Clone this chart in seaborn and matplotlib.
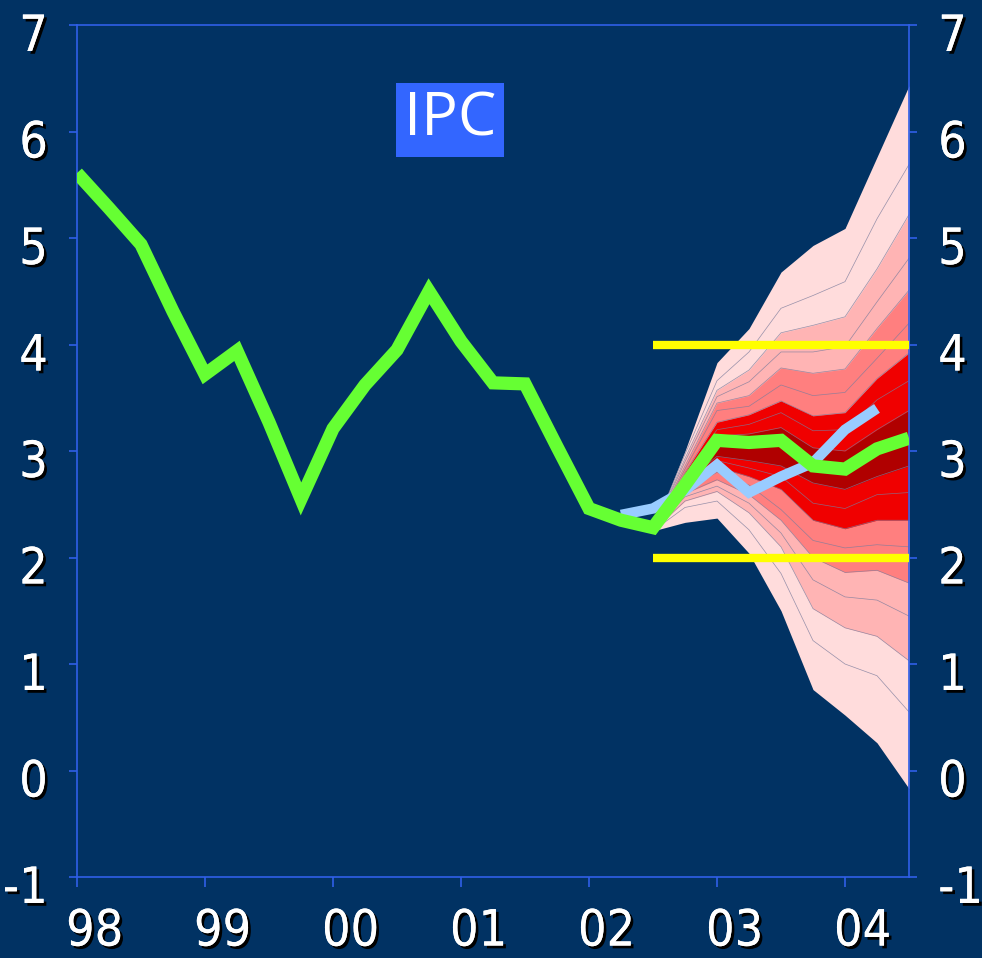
import numpy as np
import pandas as pd
import matplotlib
matplotlib.use("Agg")
import matplotlib.pyplot as plt
import matplotlib.patheffects as pe
from matplotlib.transforms import ScaledTranslation
from matplotlib import font_manager
import seaborn as sns

# quarters 98Q1 .. 04Q3
quarters = [f"{y}Q{q}" for y in ["98", "99", "00", "01", "02", "03", "04"] for q in (1, 2, 3, 4)][:27]
year_labels = ["98", "99", "00", "01", "02", "03", "04"]

# IPC observed / latest projection (green)
ipc = [5.61, 5.28, 4.94, 4.31, 3.72, 3.94, 3.27, 2.55, 3.21, 3.62, 3.95, 4.50,
       4.03, 3.64, 3.63, 3.04, 2.46, 2.35, 2.28, 2.68, 3.10, 3.08, 3.10, 2.86,
       2.83, 3.02, 3.12]
# previous projection (light blue), 02Q2 .. 04Q2
prev_x = list(range(17, 26))
prev = [2.40, 2.46, 2.63, 2.87, 2.61, 2.76, 2.89, 3.20, 3.40]

# fan chart boundaries, 02Q3 .. 04Q3 (top to bottom)
fan_x = list(range(18, 27))
b00 = [2.25, 3.00, 3.83, 4.15, 4.68, 4.93, 5.09, 5.76, 6.43]
b01 = [2.25, 2.97, 3.66, 3.93, 4.34, 4.46, 4.59, 5.18, 5.69]
b02 = [2.25, 2.93, 3.57, 3.76, 4.11, 4.18, 4.26, 4.71, 5.22]
b03 = [2.25, 2.90, 3.51, 3.65, 3.93, 3.93, 3.98, 4.40, 4.81]
b04 = [2.25, 2.86, 3.45, 3.52, 3.78, 3.73, 3.77, 4.15, 4.51]
b05 = [2.25, 2.83, 3.38, 3.42, 3.62, 3.52, 3.55, 3.87, 4.20]
b06 = [2.25, 2.80, 3.27, 3.34, 3.47, 3.33, 3.36, 3.68, 3.92]
b07 = [2.25, 2.78, 3.20, 3.25, 3.36, 3.19, 3.20, 3.48, 3.66]
b08 = [2.25, 2.76, 3.14, 3.16, 3.22, 3.03, 3.00, 3.20, 3.38]
b09 = [2.25, 2.70, 2.95, 2.91, 2.86, 2.70, 2.64, 2.76, 2.86]
b10 = [2.25, 2.68, 2.91, 2.84, 2.76, 2.51, 2.46, 2.59, 2.61]
b11 = [2.25, 2.66, 2.85, 2.76, 2.64, 2.35, 2.27, 2.35, 2.35]
b12 = [2.25, 2.63, 2.80, 2.68, 2.45, 2.16, 2.09, 2.12, 2.10]
b13 = [2.25, 2.60, 2.73, 2.59, 2.35, 2.00, 1.86, 1.88, 1.76]
b14 = [2.25, 2.57, 2.67, 2.51, 2.23, 1.79, 1.63, 1.60, 1.45]
b15 = [2.25, 2.53, 2.62, 2.42, 2.10, 1.52, 1.34, 1.26, 1.03]
b16 = [2.25, 2.47, 2.53, 2.26, 1.85, 1.22, 1.00, 0.89, 0.55]
b17 = [2.25, 2.33, 2.37, 2.04, 1.50, 0.76, 0.52, 0.26, -0.17]
bounds = [b00, b01, b02, b03, b04, b05, b06, b07, b08,
          b09, b10, b11, b12, b13, b14, b15, b16, b17]
fan_colors = ["#ffdcdc", "#ffb4b4", "#ff7f7f", "#f00000", "#b00000"]

# target range
target_x = [18, 26]
target_hi = [4, 4]
target_lo = [2, 2]

bg = "#013263"
axis_blue = "#2f5fe8"

sns.set_style("dark", {"axes.facecolor": bg, "figure.facecolor": bg})
plt.rcParams["font.family"] = ["Open Sans", "DejaVu Sans"]

# look for a condensed face for the numbers, else plain Open Sans
num_prop = font_manager.FontProperties(family="Open Sans")
for f in font_manager.fontManager.ttflist:
    if ("Narrow" in f.name or "Condensed" in f.name or f.stretch in ("condensed", "semi-condensed")) \
            and f.weight in (400, "normal", "regular") and f.style == "normal":
        num_prop = font_manager.FontProperties(fname=f.fname)
        break

fig = plt.figure(figsize=(9.82, 9.58), dpi=100)
ax = fig.add_axes([77 / 982, 1 - 877 / 958, (909 - 77) / 982, (877 - 25) / 958])

# fan
for i, c in enumerate(fan_colors):
    ax.fill_between(fan_x, bounds[i * 2], bounds[17 - i * 2], color=c, lw=0, zorder=1)
for b in bounds[1:-1]:
    ax.plot(fan_x, b, color="#7c7c9c", lw=0.5, alpha=0.8, zorder=2)

# target band limits
for t in (target_hi, target_lo):
    ax.plot(target_x, t, color="#ffff00", lw=6, solid_capstyle="butt", zorder=3)

df_prev = pd.DataFrame({"x": prev_x, "v": prev})
df_ipc = pd.DataFrame({"x": range(len(ipc)), "v": ipc})
sns.lineplot(data=df_prev, x="x", y="v", ax=ax, color="#99ccff", lw=7.5,
             solid_capstyle="butt", solid_joinstyle="miter", zorder=4)
sns.lineplot(data=df_ipc, x="x", y="v", ax=ax, color="#66ff33", lw=9.5,
             solid_capstyle="butt", solid_joinstyle="miter", zorder=5)

ax.set_xlim(0, 26)
ax.set_ylim(-1, 7)
ax.set_xlabel("")
ax.set_ylabel("")

for s in ax.spines.values():
    s.set_visible(True)
    s.set_color(axis_blue)
    s.set_linewidth(1.2)

shadow = [pe.withSimplePatchShadow(offset=(2, -2), shadow_rgbFace="black", alpha=1.0), pe.Normal()]

ax.set_yticks(range(-1, 8))
ax.set_yticklabels([str(v) for v in range(-1, 8)])
ax.tick_params(axis="y", which="major", left=True, right=True, labelleft=True, labelright=True,
               direction="out", length=6, width=1.2, color=axis_blue,
               labelcolor="white", pad=15)

ax.set_xticks(range(0, 27, 4))
ax.set_xticklabels([])
ax.set_xticks([v + 0.55 for v in range(0, 25, 4)], minor=True)
ax.set_xticklabels(year_labels, minor=True)
ax.tick_params(axis="x", which="major", bottom=True, direction="out", length=7, width=1.2,
               color=axis_blue)
ax.tick_params(axis="x", which="minor", bottom=True, length=0, labelcolor="white", pad=22)

down = ScaledTranslation(0, -7 / 100, fig.dpi_scale_trans)
for t in ax.yaxis.get_major_ticks():
    for lab in (t.label1, t.label2):
        lab.set_fontproperties(num_prop)
        lab.set_fontsize(36)
        lab.set_path_effects(shadow)
        lab.set_transform(lab.get_transform() + down)
for lab in ax.get_xticklabels(which="minor"):
    lab.set_fontproperties(num_prop)
    lab.set_fontsize(36)
    lab.set_path_effects(shadow)

fig.text(450 / 982, 1 - 120 / 958, "IPC", color="white", fontsize=44,
         ha="center", va="center",
         bbox=dict(boxstyle="square,pad=0.12", fc="#3366ff", ec="none"))

fig.savefig("out.png", dpi=100, facecolor=bg)
